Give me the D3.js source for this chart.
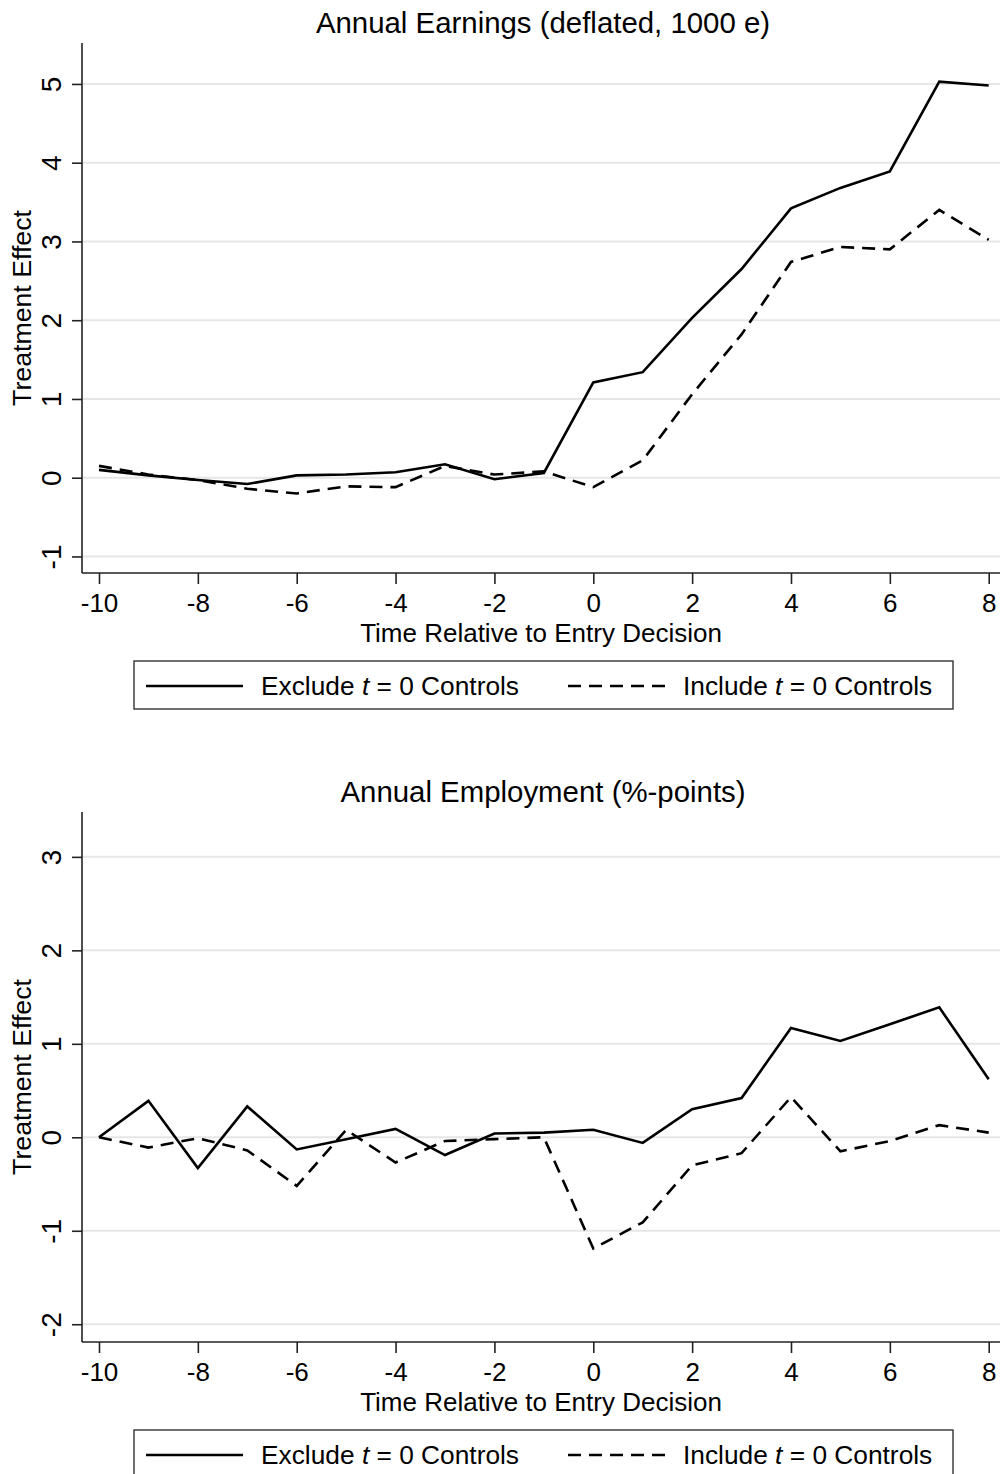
<!DOCTYPE html>
<html>
<head>
<meta charset="utf-8">
<script src="https://cdn.jsdelivr.net/npm/d3@7"></script>
<style>
  html, body { margin: 0; padding: 0; background: #fff; }
  svg { display: block; }
  text { font-family: "Liberation Sans", Arial, Helvetica, sans-serif; fill: #000; }
</style>
</head>
<body>
<svg id="chart" width="1000" height="1474"></svg>
<script>
// Event time relative to the entry decision
const years = [-10, -9, -8, -7, -6, -5, -4, -3, -2, -1, 0, 1, 2, 3, 4, 5, 6, 7, 8];
const xTicks = [-10, -8, -6, -4, -2, 0, 2, 4, 6, 8];

// Annual earnings (deflated, 1000 e)
const earningsExclude = [0.10, 0.03, -0.03, -0.08, 0.03, 0.04, 0.07, 0.17, -0.02, 0.06, 1.21, 1.34, 2.03, 2.65, 3.42, 3.68, 3.89, 5.03, 4.98];
const earningsInclude = [0.15, 0.04, -0.03, -0.14, -0.20, -0.11, -0.12, 0.15, 0.04, 0.08, -0.12, 0.22, 1.06, 1.82, 2.74, 2.93, 2.90, 3.40, 3.02];
const earningsTicks = [-1, 0, 1, 2, 3, 4, 5];

// Annual employment (%-points)
const employmentExclude = [0.00, 0.39, -0.33, 0.33, -0.13, -0.02, 0.09, -0.19, 0.04, 0.05, 0.08, -0.06, 0.30, 0.42, 1.17, 1.03, 1.21, 1.39, 0.62];
const employmentInclude = [0.00, -0.11, -0.01, -0.14, -0.52, 0.08, -0.27, -0.04, -0.02, 0.00, -1.19, -0.91, -0.30, -0.17, 0.43, -0.15, -0.04, 0.13, 0.05];
const employmentTicks = [-2, -1, 0, 1, 2, 3];

const seriesNames = ["Exclude", "Include"];

const svg = d3.select("#chart");
const FONT = 26;
const DASH = "13,8";

const x = d3.scaleLinear().domain([-10, 8]).range([99, 988.7]);
const plotLeft = 82, plotRight = 1000;
const fmt = d => d < 0 ? "-" + Math.abs(d) : String(d);

function panel(opts) {
  const { top, bottom, yDomain, ticks, title, exclude, include } = opts;
  const y = d3.scaleLinear().domain(yDomain).range([bottom, top]);
  const g = svg.append("g");

  // horizontal grid
  g.append("g").selectAll("line").data(ticks).join("line")
    .attr("x1", plotLeft).attr("x2", plotRight)
    .attr("y1", d => y(d)).attr("y2", d => y(d))
    .attr("stroke", "#e6e6e6").attr("stroke-width", 2);

  // y axis with rotated tick labels
  const yAxis = g.append("g").attr("transform", `translate(${plotLeft},0)`)
    .call(d3.axisLeft(y).tickValues(ticks).tickSize(10).tickFormat(fmt));
  yAxis.select(".domain").attr("stroke", "#222").attr("stroke-width", 1.6)
    .attr("d", `M0,${top}V${bottom}`);
  yAxis.selectAll(".tick line").attr("stroke", "#222").attr("stroke-width", 1.6);
  yAxis.selectAll(".tick text")
    .attr("x", 0).attr("dy", null)
    .attr("transform", "translate(-31,0) rotate(-90)")
    .attr("text-anchor", "middle").attr("dominant-baseline", "central")
    .style("font-size", "28px").style("font-family", "Liberation Sans, Arial, sans-serif")
    .attr("fill", "#000");

  // x axis
  const xAxis = g.append("g").attr("transform", `translate(0,${bottom})`)
    .call(d3.axisBottom(x).tickValues(xTicks).tickSize(11).tickFormat(fmt));
  xAxis.select(".domain").attr("stroke", "#222").attr("stroke-width", 1.6)
    .attr("d", `M${plotLeft},0H${plotRight}`);
  xAxis.selectAll(".tick line").attr("stroke", "#222").attr("stroke-width", 1.6);
  xAxis.selectAll(".tick text").attr("y", 39).attr("dy", null)
    .style("font-size", FONT + "px").style("font-family", "Liberation Sans, Arial, sans-serif")
    .attr("fill", "#000");

  // series
  const line = d3.line().x((d, i) => x(years[i])).y(d => y(d));
  g.append("path").datum(exclude).attr("d", line)
    .attr("fill", "none").attr("stroke", "#000").attr("stroke-width", 2.6);
  g.append("path").datum(include).attr("d", line)
    .attr("fill", "none").attr("stroke", "#000").attr("stroke-width", 2.6)
    .attr("stroke-dasharray", DASH);

  // titles
  g.append("text").attr("x", 543).attr("y", top - 10)
    .attr("text-anchor", "middle").style("font-size", "29.4px").text(title);
  g.append("text").attr("x", 541).attr("y", bottom + 69)
    .attr("text-anchor", "middle").style("font-size", FONT + "px")
    .text("Time Relative to Entry Decision");
  g.append("text")
    .attr("transform", `translate(31,${(top + bottom) / 2}) rotate(-90)`)
    .attr("text-anchor", "middle").style("font-size", "26.7px")
    .text("Treatment Effect");

  // legend
  const ly = bottom + 88;
  const lg = g.append("g").attr("transform", `translate(0,${ly})`);
  lg.append("rect").attr("x", 134).attr("y", 0).attr("width", 819).attr("height", 48)
    .attr("fill", "#fff").attr("stroke", "#333").attr("stroke-width", 1.4);
  const items = [
    { name: seriesNames[0], x0: 146, tx: 261, dash: null },
    { name: seriesNames[1], x0: 568, tx: 683, dash: DASH }
  ];
  items.forEach(it => {
    lg.append("line").attr("x1", it.x0).attr("x2", it.x0 + 97).attr("y1", 25).attr("y2", 25)
      .attr("stroke", "#000").attr("stroke-width", 2.6)
      .attr("stroke-dasharray", it.dash);
    const t = lg.append("text").attr("x", it.tx).attr("y", 34).style("font-size", "26.3px");
    t.append("tspan").text(it.name + " ");
    t.append("tspan").style("font-style", "italic").text("t");
    t.append("tspan").text(" = 0 Controls");
  });
}

panel({
  top: 43, bottom: 573, yDomain: [-1.21, 5.52], ticks: earningsTicks,
  title: "Annual Earnings (deflated, 1000 e)",
  exclude: earningsExclude, include: earningsInclude
});
panel({
  top: 812, bottom: 1342, yDomain: [-2.19, 3.48], ticks: employmentTicks,
  title: "Annual Employment (%-points)",
  exclude: employmentExclude, include: employmentInclude
});
</script>
</body>
</html>
